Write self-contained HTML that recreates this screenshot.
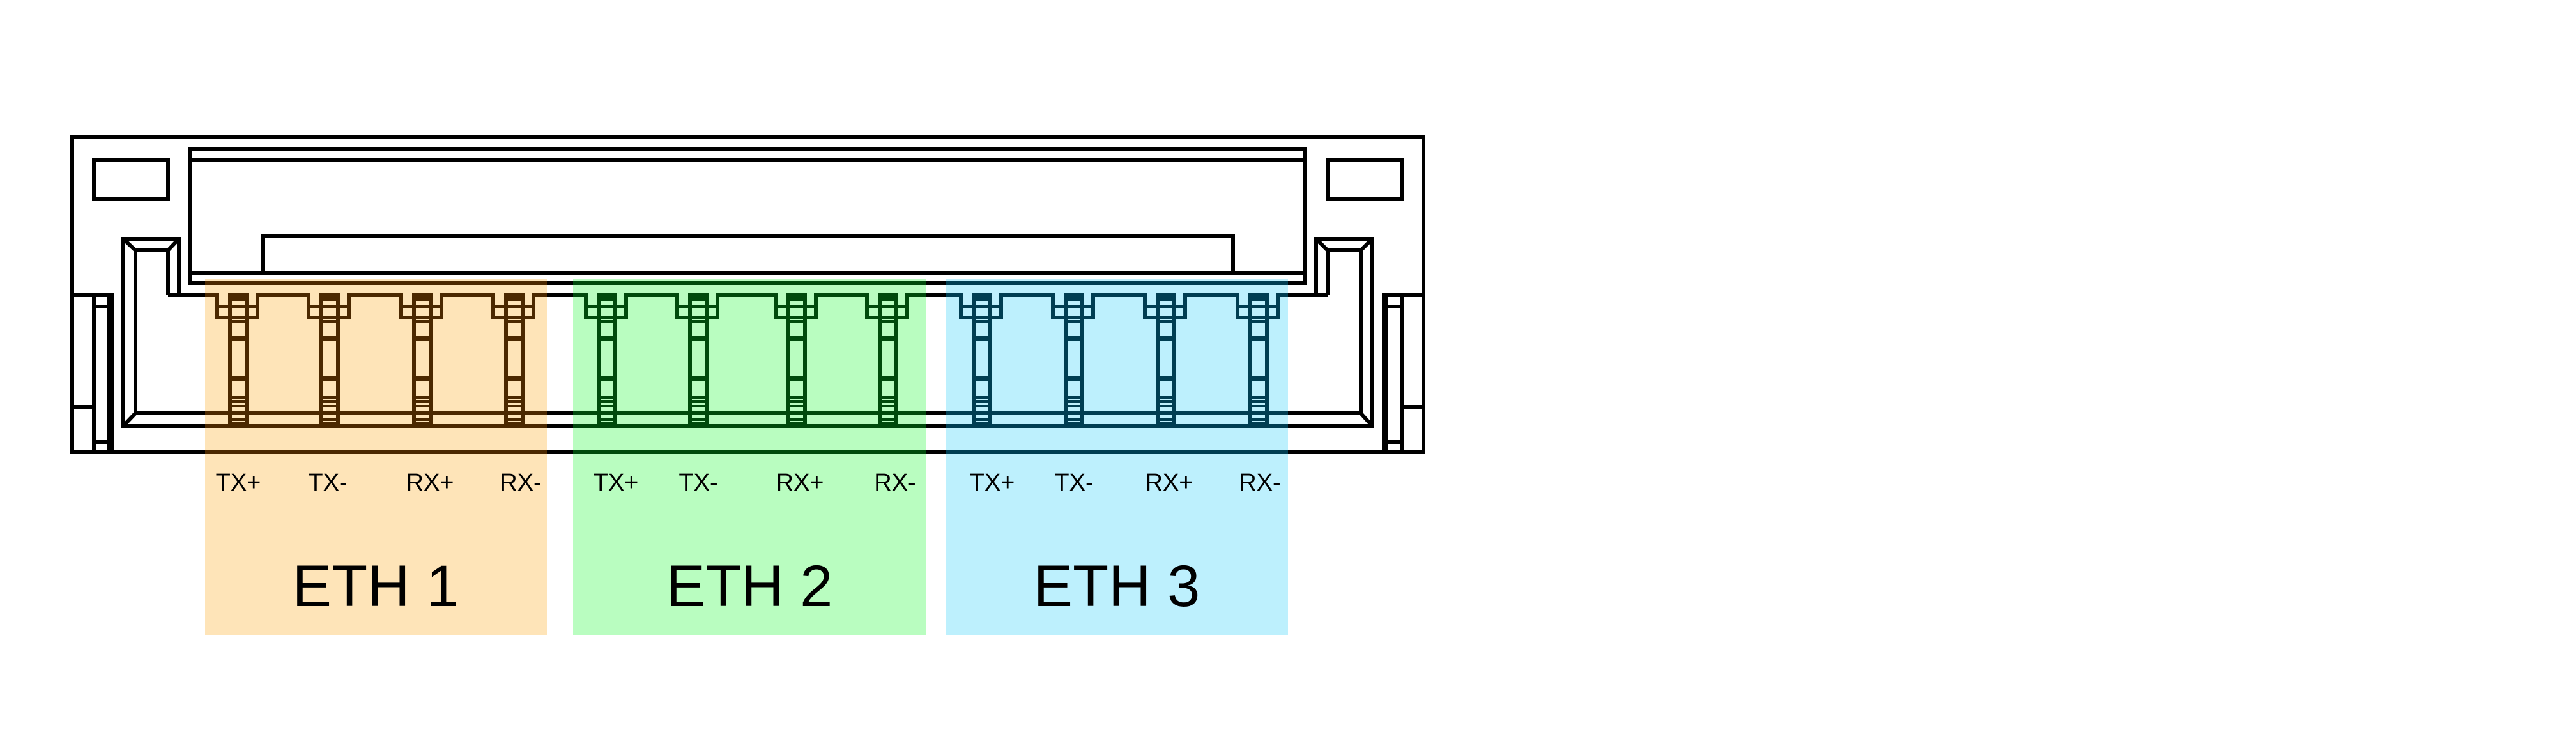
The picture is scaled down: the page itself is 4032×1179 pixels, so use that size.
<!DOCTYPE html>
<html><head><meta charset="utf-8"><style>
html,body{margin:0;padding:0;background:#fff;width:4032px;height:1179px;overflow:hidden}
svg{display:block}
text{font-family:"Liberation Sans",sans-serif;fill:#000}
</style></head><body>
<svg id="s" width="4032" height="1179" viewBox="0 0 4032 1179" xmlns="http://www.w3.org/2000/svg">
<rect x="321" y="437" width="535" height="558" fill="#fddfb8"/>
<rect x="897" y="437" width="553" height="558" fill="#b9fcbd"/>
<rect x="1481" y="437" width="535" height="558" fill="#bdebfc"/>
<g id="lines" fill="none" stroke="#000" stroke-width="6">
<rect x="113" y="215" width="2115" height="493"/>
<rect x="147" y="250" width="116" height="62"/>
<rect x="2078" y="250" width="116" height="62"/>
<rect x="297" y="233" width="1746" height="210"/>
<line x1="297" y1="250" x2="2043" y2="250"/>
<line x1="297" y1="427" x2="2043" y2="427"/>
<polyline points="412,427 412,370 1930,370 1930,427"/>
<polyline points="280,462 280,374 193,374 193,667 2148,667 2148,374 2060,374 2060,462"/>
<polyline points="263,462 263,392 212,392 212,647 2130,647 2130,392 2078,392 2078,462"/>
<line x1="193" y1="374" x2="212" y2="392"/><line x1="280" y1="374" x2="263" y2="392"/>
<line x1="193" y1="667" x2="212" y2="647"/>
<line x1="2148" y1="374" x2="2130" y2="392"/><line x1="2060" y1="374" x2="2078" y2="392"/>
<line x1="2148" y1="667" x2="2130" y2="647"/>
<line x1="113" y1="462" x2="178" y2="462"/><line x1="147" y1="462" x2="147" y2="708"/>
<line x1="113" y1="637" x2="147" y2="637"/>
<line x1="150" y1="480" x2="170" y2="480"/><line x1="150" y1="692" x2="170" y2="692"/>
<rect x="168" y="462" width="10" height="246" fill="#000" stroke="none"/>
<line x1="2228" y1="462" x2="2163" y2="462"/><line x1="2194" y1="462" x2="2194" y2="708"/>
<line x1="2228" y1="637" x2="2194" y2="637"/>
<line x1="2171" y1="480" x2="2191" y2="480"/><line x1="2171" y1="692" x2="2191" y2="692"/>
<rect x="2163" y="462" width="10" height="246" fill="#000" stroke="none"/>
<path id="top" d=""/>
<g id="pins"></g>
</g>
<rect x="321" y="437" width="535" height="558" fill="#4b2800" style="mix-blend-mode:screen"/>
<rect x="897" y="437" width="553" height="558" fill="#004a0c" style="mix-blend-mode:screen"/>
<rect x="1481" y="437" width="535" height="558" fill="#003e52" style="mix-blend-mode:screen"/>
<g font-size="38" text-anchor="middle" font-weight="500">
<text x="373" y="768">TX+</text><text x="513" y="768">TX-</text><text x="673" y="768">RX+</text><text x="815" y="768">RX-</text>
<text x="964" y="768">TX+</text><text x="1093" y="768">TX-</text><text x="1252" y="768">RX+</text><text x="1401" y="768">RX-</text>
<text x="1553" y="768">TX+</text><text x="1681" y="768">TX-</text><text x="1830" y="768">RX+</text><text x="1972" y="768">RX-</text>
</g>
<g font-size="92" text-anchor="middle" font-weight="500">
<text x="588" y="949">ETH 1</text><text x="1173" y="949">ETH 2</text><text x="1748" y="949">ETH 3</text>
</g>
</svg>
<script>
var cs=[373,516,661,805,950,1093,1247,1390,1537,1681,1825,1970];
var d="M263 462";
var g=document.getElementById('pins');var h='';
cs.forEach(function(c){
 d+=" H"+(c-33)+" V497 H"+(c+30)+" V462";
 h+='<line x1="'+(c-33)+'" y1="480" x2="'+(c+30)+'" y2="480"/>';
 h+='<rect x="'+(c-13)+'" y="462" width="26" height="205"/>';
 [[467,9],[497,5],[503,4],[530,8],[592,8],[622,4],[629,4],[636,4],[657,4],[662,4]].forEach(function(r){
  h+='<line x1="'+(c-13)+'" y1="'+r[0]+'" x2="'+(c+13)+'" y2="'+r[0]+'" stroke-width="'+r[1]+'"/>';
 });
});
d+=" H2078";
document.getElementById('top').setAttribute('d',d);
g.innerHTML=h;
</script>
</body></html>
